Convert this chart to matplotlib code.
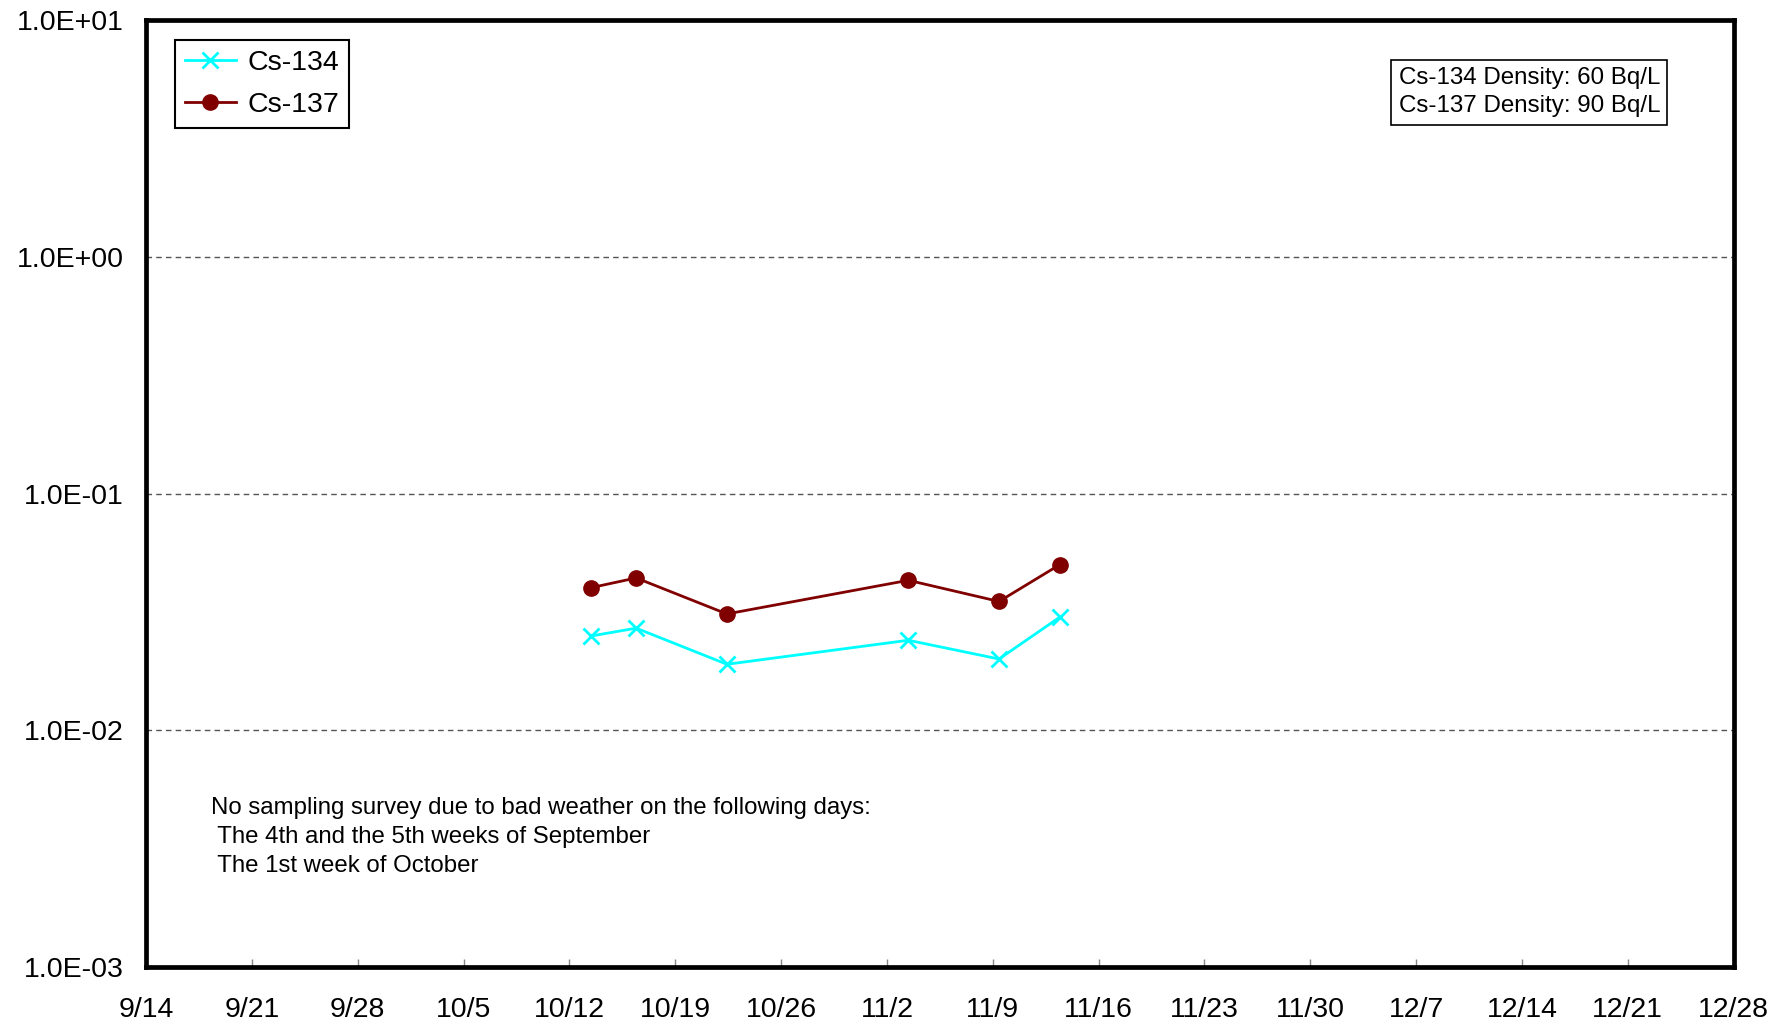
import datetime as dt
import matplotlib
matplotlib.use('Agg')
import matplotlib.pyplot as plt
import matplotlib.ticker as mticker

plt.rcParams['font.family'] = ['Liberation Sans', 'DejaVu Sans']

# sampling dates (month, day)
sample_days = [(10, 13), (10, 16), (10, 22), (11, 3), (11, 9), (11, 13)]
cs134 = [0.025, 0.027, 0.019, 0.024, 0.020, 0.030]
cs137 = [0.040, 0.044, 0.031, 0.043, 0.035, 0.050]

tick_start = (9, 14)
tick_end = (12, 28)

dates = [dt.datetime(2011, m, d, 10) for m, d in sample_days]
x0 = dt.datetime(2011, *tick_start)
x1 = dt.datetime(2011, *tick_end)

fig = plt.figure(figsize=(17.83, 10.27), dpi=100)
ax = fig.add_axes([0.0819, 0.0584, 0.9723 - 0.0819, 0.9805 - 0.0584])

ax.plot(dates, cs134, color='#00FFFF', marker='x', ms=11, mew=2, lw=2, label='Cs-134')
ax.plot(dates, cs137, color='#800000', marker='o', ms=11, lw=2, label='Cs-137')

ax.set_yscale('log')
ax.set_ylim(1e-3, 1e1)
ax.set_xlim(x0, x1)

ticks = [x0 + dt.timedelta(days=7 * i) for i in range(16)]
ax.set_xticks(ticks)
ax.set_xticklabels([f'{t.month}/{t.day}' for t in ticks])
ax.yaxis.set_major_locator(mticker.LogLocator(base=10, numticks=10))
ax.yaxis.set_minor_locator(mticker.NullLocator())
ax.yaxis.set_major_formatter(mticker.FuncFormatter(lambda v, p: f'{v:.1E}'))

ax.tick_params(axis='x', direction='in', length=6, width=1, color='#888888',
               labelsize=20.5, pad=21.5)
ax.tick_params(axis='y', length=0, labelsize=20.5, pad=16)

for s in ax.spines.values():
    s.set_linewidth(3.4)

ax.grid(True, axis='y', which='major', linestyle=(0, (4, 3)), color='#555555', lw=1)

leg = ax.legend(loc='upper left', bbox_to_anchor=(0.018, 0.979), borderaxespad=0,
                fontsize=20.5, handlelength=1.8, fancybox=False, framealpha=1,
                edgecolor='black', borderpad=0.35, labelspacing=0.55, handletextpad=0.4)
leg.get_frame().set_linewidth(1.5)

ax.text(0.789, 0.950, 'Cs-134 Density: 60 Bq/L\nCs-137 Density: 90 Bq/L',
        transform=ax.transAxes, ha='left', va='top', fontsize=17.4, linespacing=1.35,
        bbox=dict(boxstyle='square,pad=0.3', facecolor='white', edgecolor='black', lw=1.2))

ax.text(0.041, 0.137,
        'No sampling survey due to bad weather on the following days:\n'
        ' The 4th and the 5th weeks of September\n'
        ' The 1st week of October',
        transform=ax.transAxes, ha='left', va='center', fontsize=17.3, linespacing=1.42)

fig.savefig('out.png', dpi=100)
